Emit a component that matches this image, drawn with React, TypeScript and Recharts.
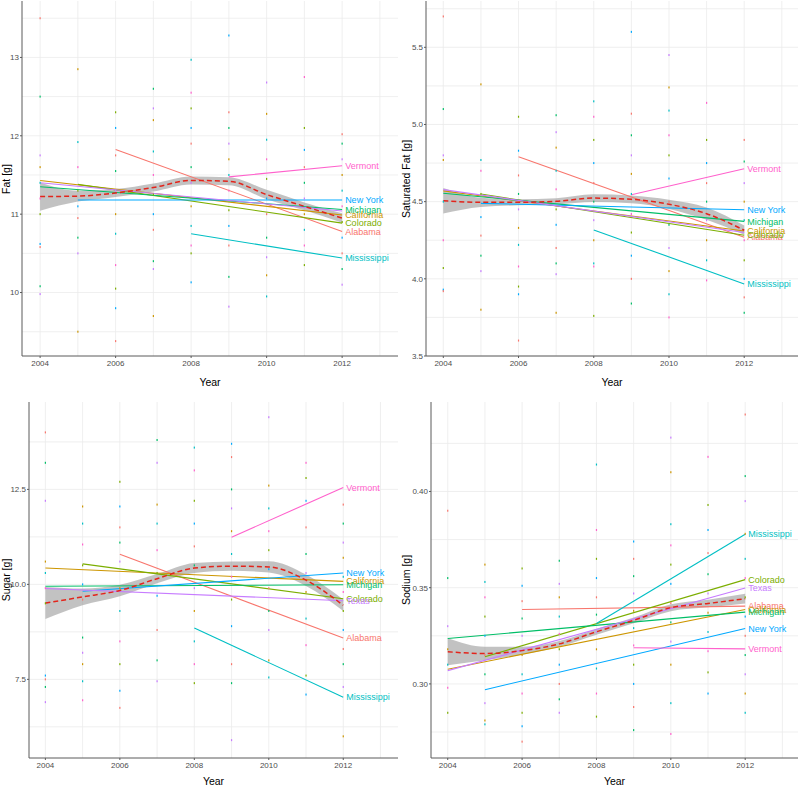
import React from 'react';
import { ComposedChart, Line, Area, Scatter, XAxis, YAxis, CartesianGrid } from 'recharts';

const YEARS = [2004, 2005, 2006, 2007, 2008, 2009, 2010, 2011, 2012];
const STATES = ['Alabama', 'California', 'Colorado', 'Michigan', 'Mississippi', 'New York', 'Texas', 'Vermont'];
const STATE_COLORS = ['#F8766D', '#CD9600', '#7CAE00', '#00BE67', '#00BFC4', '#00A9FF', '#C77CFF', '#FF61CC'];
const START_YEAR = [2006, 2004, 2005, 2004, 2008, 2005, 2004, 2009];
const END_YEAR = 2012;
const X_TICKS = [2004, 2006, 2008, 2010, 2012];
const X_GRID = [2004, 2005, 2006, 2007, 2008, 2009, 2010, 2011, 2012, 2013];

// ---- Fat ----
const FAT_START = [11.825, 11.43, 11.38, 11.35, 10.75, 11.18, 11.4, 11.476];
const FAT_END = [10.78, 10.99, 10.885, 11.06, 10.44, 11.18, 11.04, 11.617];
const FAT_LABELLED = [true, true, true, true, true, true, false, true];
const FAT_FIT = [11.225, 11.23, 11.27, 11.34, 11.43, 11.42, 11.25, 11.1, 10.95];
const FAT_SE = [0.18, 0.07, 0.05, 0.05, 0.05, 0.05, 0.06, 0.05, 0.06];
const FAT_TICKS = [10, 11, 12, 13];
const FAT_GRID = [9.5, 10, 10.5, 11, 11.5, 12, 12.5, 13, 13.5];
const FAT_POINTS = [
  [13.5, 12.5, 11.75, 11.6, 11.4, 11.2, 11.0, 10.62, 10.58, 10.08, 9.98],
  [12.85, 11.92, 11.6, 11.3, 11.1, 10.95, 10.7, 10.5, 9.5],
  [12.3, 12.1, 11.75, 11.55, 11.3, 11.0, 10.75, 10.35, 10.05, 9.8, 9.38],
  [12.6, 12.35, 12.2, 11.8, 11.5, 11.25, 11.0, 10.8, 10.4, 10.3, 9.7],
  [12.97, 12.55, 12.35, 12.1, 11.9, 11.6, 11.4, 11.1, 10.85, 10.6, 10.5, 10.13],
  [13.28, 12.3, 12.1, 11.9, 11.7, 11.5, 11.3, 11.05, 10.85, 10.6, 10.2, 9.82],
  [12.68, 12.28, 11.95, 11.7, 11.45, 11.2, 11.0, 10.7, 10.45, 10.22, 9.95],
  [12.75, 12.1, 11.82, 11.6, 11.4, 11.2, 11.0, 10.8, 10.6, 10.35],
  [12.02, 11.9, 11.7, 11.5, 11.3, 11.1, 10.9, 10.7, 10.5, 10.3, 10.1],
];

// ---- Saturated fat ----
const SAT_START = [4.791, 4.57, 4.55, 4.554, 4.317, 4.489, 4.578, 4.545];
const SAT_END = [4.27, 4.31, 4.282, 4.372, 3.967, 4.448, 4.3, 4.713];
const SAT_LABELLED = [true, true, true, true, true, true, false, true];
const SAT_FIT = [4.506, 4.496, 4.496, 4.502, 4.523, 4.515, 4.483, 4.422, 4.315];
const SAT_SE = [0.083, 0.03, 0.02, 0.02, 0.025, 0.025, 0.03, 0.04, 0.03];
const SAT_TICKS = [3.5, 4.0, 4.5, 5.0, 5.5];
const SAT_GRID = [3.5, 3.75, 4, 4.25, 4.5, 4.75, 5, 5.25, 5.5, 5.75];
const SAT_POINTS = [
  [5.7, 5.1, 4.8, 4.77, 4.5, 4.25, 4.07, 3.93, 3.92],
  [5.26, 4.77, 4.7, 4.55, 4.4, 4.28, 4.15, 4.05, 3.8],
  [5.05, 4.83, 4.67, 4.55, 4.45, 4.33, 4.22, 4.08, 3.95, 3.9, 3.6],
  [5.06, 4.95, 4.85, 4.7, 4.58, 4.45, 4.35, 4.2, 4.1, 4.03, 3.78],
  [5.15, 5.05, 4.9, 4.75, 4.62, 4.5, 4.38, 4.25, 4.1, 4.08, 3.76],
  [5.6, 5.07, 4.93, 4.8, 4.68, 4.55, 4.42, 4.3, 4.15, 4.0, 3.84],
  [5.45, 5.24, 5.09, 4.93, 4.8, 4.65, 4.5, 4.35, 4.2, 4.05, 3.9, 3.75],
  [5.14, 4.9, 4.75, 4.62, 4.5, 4.38, 4.25, 4.12, 3.99],
  [4.9, 4.76, 4.62, 4.5, 4.38, 4.25, 4.12, 4.0, 3.88, 3.78],
];

// ---- Sugar ----
const SUGAR_START = [10.79, 10.43, 10.54, 9.95, 8.85, 9.82, 9.89, 11.24];
const SUGAR_END = [8.59, 10.08, 9.62, 9.99, 7.03, 10.3, 9.57, 12.55];
const SUGAR_LABELLED = [true, true, true, true, true, true, true, true];
const SUGAR_FIT = [9.51, 9.67, 9.84, 10.15, 10.43, 10.48, 10.46, 10.11, 9.45];
const SUGAR_SE = [0.42, 0.22, 0.15, 0.12, 0.13, 0.12, 0.15, 0.15, 0.15];
const SUGAR_TICKS = [7.5, 10.0, 12.5];
const SUGAR_GRID = [6.25, 7.5, 8.75, 10, 11.25, 12.5, 13.75];
const SUGAR_POINTS = [
  [14.0, 13.2, 12.2, 10.6, 10.3, 9.9, 9.5, 7.6, 7.5, 7.3, 6.9],
  [12.05, 11.6, 11.05, 10.5, 10.0, 9.6, 8.6, 8.2, 7.9, 7.45, 6.95],
  [12.7, 12.05, 11.5, 11.1, 10.6, 9.9, 9.3, 8.5, 7.9, 7.2, 6.75],
  [13.8, 13.2, 12.1, 11.6, 10.9, 10.3, 9.7, 8.8, 8.0, 7.45],
  [13.6, 13.0, 12.2, 11.6, 11.0, 10.5, 9.9, 9.3, 8.5, 7.9, 7.4],
  [13.7, 13.35, 12.5, 12.0, 11.4, 10.8, 10.2, 9.6, 8.9, 7.9, 7.4, 5.9],
  [14.4, 12.6, 12.0, 11.4, 10.9, 10.4, 9.9, 9.3, 8.8, 8.0, 7.55],
  [13.2, 12.8, 12.2, 11.5, 10.8, 10.3, 9.8, 9.1, 8.4, 7.6, 7.1],
  [12.1, 11.6, 11.1, 10.7, 10.2, 9.8, 9.3, 8.8, 8.3, 7.9, 7.3, 6.0],
];

// ---- Sodium ----
const SODIUM_START = [0.3387, 0.3076, 0.3141, 0.3236, 0.3314, 0.297, 0.3069, 0.3188];
const SODIUM_END = [0.3404, 0.3387, 0.3542, 0.3373, 0.3778, 0.3288, 0.3498, 0.3182];
const SODIUM_LABELLED = [true, true, true, true, true, true, true, true];
const SODIUM_FIT = [0.3167, 0.3158, 0.3173, 0.3208, 0.3271, 0.333, 0.3396, 0.3418, 0.3443];
const SODIUM_SE = [0.007, 0.0035, 0.002, 0.0015, 0.0015, 0.0015, 0.0018, 0.002, 0.0025];
const SODIUM_TICKS = [0.3, 0.35, 0.4];
const SODIUM_GRID = [0.275, 0.3, 0.325, 0.35, 0.375, 0.4, 0.425];
const SODIUM_POINTS = [
  [0.39, 0.355, 0.33, 0.318, 0.31, 0.298, 0.285],
  [0.362, 0.353, 0.345, 0.335, 0.325, 0.315, 0.305, 0.29, 0.281, 0.279],
  [0.36, 0.351, 0.343, 0.334, 0.325, 0.315, 0.305, 0.295, 0.285, 0.278, 0.27],
  [0.364, 0.352, 0.345, 0.335, 0.326, 0.318, 0.31, 0.3, 0.292, 0.285],
  [0.414, 0.38, 0.365, 0.355, 0.345, 0.336, 0.327, 0.318, 0.308, 0.295, 0.283],
  [0.374, 0.365, 0.356, 0.347, 0.338, 0.329, 0.32, 0.31, 0.3, 0.288, 0.276],
  [0.428, 0.41, 0.383, 0.372, 0.362, 0.352, 0.342, 0.332, 0.322, 0.31, 0.29, 0.274],
  [0.418, 0.393, 0.38, 0.368, 0.357, 0.347, 0.337, 0.327, 0.317, 0.306, 0.295],
  [0.44, 0.408, 0.395, 0.378, 0.365, 0.355, 0.345, 0.335, 0.325, 0.315, 0.305, 0.295, 0.285],
];

const FONT = '"Liberation Sans", Arial, Helvetica, sans-serif';

const PointDot = (props: any) => {
  const { cx, cy, payload } = props;
  if (cx == null || cy == null) return null;
  return <rect x={cx - 0.6} y={cy - 1} width={1.2} height={2} fill={STATE_COLORS[payload.c]} />;
};

const EndLabel = (props: any) => {
  const { cx, cy, payload } = props;
  if (cx == null || cy == null) return null;
  return (
    <text x={cx + 3} y={cy} dy="0.35em" fontSize={9} fontFamily={FONT} fill={payload.color}>
      {payload.name}
    </text>
  );
};

interface PanelProps {
  left: number;
  top: number;
  width: number;
  height: number;
  marginTop: number;
  yAxisWidth: number;
  xAxisHeight: number;
  titleGap: number;
  xDomain: [number, number];
  yDomain: [number, number];
  yTicks: number[];
  yGrid: number[];
  digits: number;
  title: string;
  start: number[];
  end: number[];
  labelled: boolean[];
  fit: number[];
  se: number[];
  points: number[][];
}

const Panel = (p: PanelProps) => {
  const smooth = YEARS.map((year, i) => ({
    year,
    fit: p.fit[i],
    band: [p.fit[i] - p.se[i], p.fit[i] + p.se[i]],
  }));
  const dots = p.points.flatMap((vals, yi) =>
    vals.map((v, k) => ({ year: YEARS[yi], y: v, c: (k * 3 + yi) % STATES.length }))
  );
  const labels = STATES.map((name, i) => ({ year: END_YEAR, y: p.end[i], name, color: STATE_COLORS[i] })).filter(
    (_, i) => p.labelled[i]
  );
  const plotTop = p.marginTop;
  const plotBottom = p.height - p.xAxisHeight;
  const plotLeft = p.yAxisWidth;
  const plotRight = p.width - 2;

  return (
    <div style={{ position: 'absolute', left: p.left, top: p.top, width: p.width, height: p.height }}>
      <ComposedChart
        width={p.width}
        height={p.height}
        data={smooth}
        margin={{ top: p.marginTop, right: 2, left: 0, bottom: 0 }}
      >
        <CartesianGrid
          stroke="#ebebeb"
          strokeWidth={0.8}
          horizontalValues={p.yGrid}
          verticalValues={X_GRID}
        />
        <XAxis
          dataKey="year"
          type="number"
          domain={p.xDomain}
          ticks={X_TICKS}
          allowDataOverflow
          height={p.xAxisHeight}
          tickLine={{ stroke: '#5a5a5a' }}
          tickSize={2}
          tickMargin={2}
          axisLine={{ stroke: '#5a5a5a', strokeWidth: 1 }}
          tick={{ fontSize: 8, fill: '#4d4d4d', fontFamily: FONT }}
        />
        <YAxis
          type="number"
          domain={p.yDomain}
          ticks={p.yTicks}
          allowDataOverflow
          width={p.yAxisWidth}
          tickLine={{ stroke: '#5a5a5a' }}
          tickSize={2}
          tickMargin={1}
          tickFormatter={(v: number) => v.toFixed(p.digits)}
          axisLine={{ stroke: '#5a5a5a', strokeWidth: 1 }}
          tick={{ fontSize: 8, fill: '#4d4d4d', fontFamily: FONT }}
        />
        <Scatter data={dots} dataKey="y" shape={PointDot} isAnimationActive={false} />
        <Area
          dataKey="band"
          type="monotone"
          stroke="none"
          fill="#999999"
          fillOpacity={0.6}
          isAnimationActive={false}
        />
        {STATES.map((name, i) => (
          <Line
            key={name}
            data={[
              { year: START_YEAR[i], y: p.start[i] },
              { year: END_YEAR, y: p.end[i] },
            ]}
            dataKey="y"
            type="linear"
            stroke={STATE_COLORS[i]}
            strokeWidth={1.1}
            dot={false}
            isAnimationActive={false}
          />
        ))}
        <Line
          dataKey="fit"
          type="monotone"
          stroke="#E3241B"
          strokeWidth={1.5}
          strokeDasharray="5 3"
          dot={false}
          isAnimationActive={false}
        />
        <Scatter data={labels} dataKey="y" shape={EndLabel} isAnimationActive={false} />
      </ComposedChart>
      <div
        style={{
          position: 'absolute',
          left: 6,
          top: (plotTop + plotBottom) / 2,
          transform: 'translate(-50%, -50%) rotate(-90deg)',
          fontFamily: FONT,
          fontSize: 10.5,
          whiteSpace: 'nowrap',
          color: '#000',
        }}
      >
        {p.title}
      </div>
      <div
        style={{
          position: 'absolute',
          left: (plotLeft + plotRight) / 2,
          top: plotBottom + p.titleGap,
          transform: 'translate(-50%, -50%)',
          fontFamily: FONT,
          fontSize: 10.5,
          lineHeight: '12px',
          color: '#000',
        }}
      >
        Year
      </div>
    </div>
  );
}

export default function App() {
  return (
    <div style={{ position: 'absolute', left: 0, top: 0, width: 800, height: 788, background: '#fff' }}>
      <Panel
        left={0}
        top={0}
        width={400}
        height={400}
        marginTop={1}
        yAxisWidth={22}
        xAxisHeight={44}
        titleGap={26}
        xDomain={[2003.52, 2013.48]}
        yDomain={[9.19, 13.72]}
        yTicks={FAT_TICKS}
        yGrid={FAT_GRID}
        digits={0}
        title="Fat [g]"
        start={FAT_START}
        end={FAT_END}
        labelled={FAT_LABELLED}
        fit={FAT_FIT}
        se={FAT_SE}
        points={FAT_POINTS}
      />
      <Panel
        left={400}
        top={0}
        width={400}
        height={400}
        marginTop={1}
        yAxisWidth={26}
        xAxisHeight={44}
        titleGap={26}
        xDomain={[2003.54, 2013.43]}
        yDomain={[3.5, 5.8]}
        yTicks={SAT_TICKS}
        yGrid={SAT_GRID}
        digits={1}
        title="Saturated Fat [g]"
        start={SAT_START}
        end={SAT_END}
        labelled={SAT_LABELLED}
        fit={SAT_FIT}
        se={SAT_SE}
        points={SAT_POINTS}
      />
      <Panel
        left={0}
        top={400}
        width={400}
        height={388}
        marginTop={2}
        yAxisWidth={29}
        xAxisHeight={30}
        titleGap={23}
        xDomain={[2003.56, 2013.47]}
        yDomain={[5.43, 14.8]}
        yTicks={SUGAR_TICKS}
        yGrid={SUGAR_GRID}
        digits={1}
        title="Sugar [g]"
        start={SUGAR_START}
        end={SUGAR_END}
        labelled={SUGAR_LABELLED}
        fit={SUGAR_FIT}
        se={SUGAR_SE}
        points={SUGAR_POINTS}
      />
      <Panel
        left={400}
        top={400}
        width={400}
        height={388}
        marginTop={2}
        yAxisWidth={31}
        xAxisHeight={30}
        titleGap={23}
        xDomain={[2003.55, 2013.42]}
        yDomain={[0.2615, 0.4465]}
        yTicks={SODIUM_TICKS}
        yGrid={SODIUM_GRID}
        digits={2}
        title="Sodium [g]"
        start={SODIUM_START}
        end={SODIUM_END}
        labelled={SODIUM_LABELLED}
        fit={SODIUM_FIT}
        se={SODIUM_SE}
        points={SODIUM_POINTS}
      />
    </div>
  );
}
